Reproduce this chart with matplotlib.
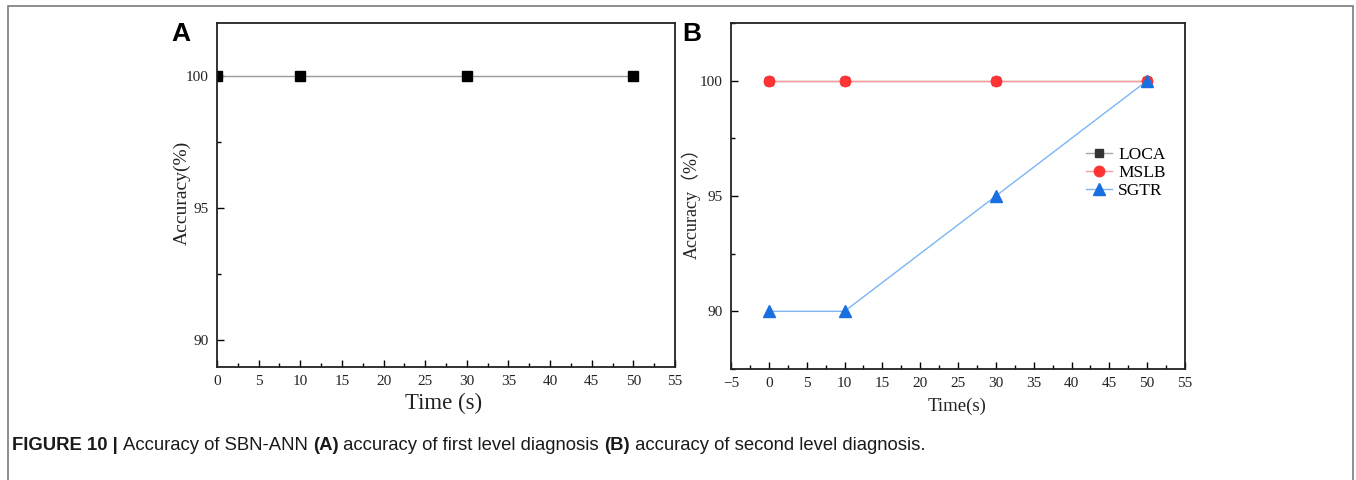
import matplotlib
matplotlib.use("Agg")
import matplotlib.pyplot as plt
from matplotlib.ticker import MultipleLocator
from matplotlib.patches import Rectangle

# data
time_s = [0, 10, 30, 50]
acc_first = [100, 100, 100, 100]          # panel A
acc_loca = [100, 100, 100, 100]           # panel B
acc_mslb = [100, 100, 100, 100]
acc_sgtr = [90, 90, 95, 100]

serif = ['Liberation Serif', 'Noto Sans CJK SC', 'DejaVu Serif']
W, H = 1356, 480

fig = plt.figure(figsize=(W / 100, H / 100), dpi=100)

# thin outer frame of the figure page
fig.patches.append(Rectangle((8 / W, -0.1), 1345 / W, 1.1 - 6 / H,
                             transform=fig.transFigure, fill=False,
                             edgecolor='#7a7a7a', linewidth=1.2))


def style_axes(ax, xmin, xmax, ymin, ymax):
    ax.set_xlim(xmin, xmax)
    ax.set_ylim(ymin, ymax)
    ax.xaxis.set_major_locator(MultipleLocator(5))
    ax.xaxis.set_minor_locator(MultipleLocator(2.5))
    ax.yaxis.set_major_locator(MultipleLocator(5))
    ax.yaxis.set_minor_locator(MultipleLocator(2.5))
    ax.tick_params(which='both', direction='in', top=False, right=False)
    ax.tick_params(which='major', length=5, width=1)
    ax.tick_params(which='minor', length=3, width=1)
    ax.tick_params(labelsize=11, pad=6)
    for lab in ax.get_xticklabels() + ax.get_yticklabels():
        lab.set_family(serif)
        lab.set_color('#222222')
    for sp in ax.spines.values():
        sp.set_linewidth(1.3)
        sp.set_color('#222222')


def place_labels(ax, xpos, ypos):
    # centre the axis titles where they sit in the original
    ax.xaxis.set_label_coords(*xpos)
    ax.xaxis.label.set_va('center')
    ax.yaxis.set_label_coords(*ypos)
    ax.yaxis.label.set_va('center')


# panel A
axA = fig.add_axes([217 / W, 1 - 366.5 / H, 458 / W, 343.5 / H])
axA.plot(time_s, acc_first, color='#9a9a9a', linewidth=1.0, marker='s',
         markersize=7.5, markerfacecolor='black', markeredgecolor='black')
style_axes(axA, 0, 55, 89, 102)
axA.set_xlabel('Time (s)', family=serif, fontsize=16.4, color='#222222')
axA.set_ylabel('Accuracy(%)', family=serif, fontsize=14, color='#222222')
place_labels(axA, (0.4956, -0.109), (-0.0764, 0.505))
fig.text(171 / W, 1 - 34 / H, 'A', fontsize=19, fontweight='bold',
         family='Liberation Sans', va='center', ha='left')

# panel B
axB = fig.add_axes([731 / W, 1 - 369 / H, 454 / W, 346 / H])
axB.plot(time_s, acc_loca, color='#a8a8a8', linewidth=1.0, marker='s',
         markersize=6, markerfacecolor='#333333', markeredgecolor='#333333',
         label='LOCA')
axB.plot(time_s, acc_mslb, color='#ff9a9a', linewidth=1.0, marker='o',
         markersize=7.5, markerfacecolor='#ff3333', markeredgecolor='#ff3333',
         label='MSLB')
axB.plot(time_s, acc_sgtr, color='#7ab6f5', linewidth=1.0, marker='^',
         markersize=8, markerfacecolor='#1a6fe0', markeredgecolor='#1a6fe0',
         label='SGTR')
style_axes(axB, -5, 55, 87.5, 102.5)
axB.set_xlabel('Time(s)', family=serif, fontsize=13.5, color='#222222')
axB.set_ylabel('Accuracy（%）', family=serif, fontsize=13, color='#222222')
place_labels(axB, (0.498, -0.107), (-0.0881, 0.49))
leg = axB.legend(loc='upper left', bbox_to_anchor=(0.755, 0.678), frameon=False,
                 prop={'family': serif, 'size': 12.5}, handlelength=1.5,
                 labelspacing=0.12, handletextpad=0.35, borderpad=0.2)
fig.text(682 / W, 1 - 34 / H, 'B', fontsize=19, fontweight='bold',
         family='Liberation Sans', va='center', ha='left')

# caption with bold pieces
pieces = [('FIGURE 10 | ', 'bold'), ('Accuracy of SBN-ANN ', 'normal'),
          ('(A)', 'bold'), (' accuracy of first level diagnosis ', 'normal'),
          ('(B)', 'bold'), (' accuracy of second level diagnosis.', 'normal')]
renderer = fig.canvas.get_renderer()
x = 12
for txt, wt in pieces:
    t = fig.text(x / W, 1 - 445 / H, txt, fontsize=13.3, fontweight=wt,
                 family='Liberation Sans', va='center', ha='left',
                 color='#1a1a1a')
    bb = t.get_window_extent(renderer=renderer)
    x += bb.width

fig.savefig('out.png', dpi=100)
